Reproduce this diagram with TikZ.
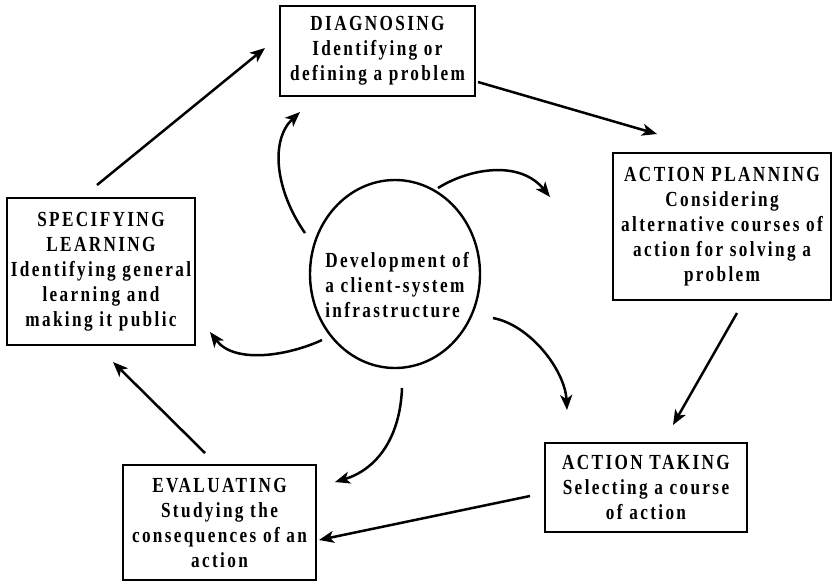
\documentclass[tikz,border=0pt]{standalone}
\usepackage{fontspec}
\setmainfont{Liberation Serif}[FakeStretch=0.8,LetterSpace=11]
\usetikzlibrary{arrows.meta,shapes.geometric}
\newcommand\diagtxt{\bfseries\fontsize{21.5}{25}\selectfont}
\begin{document}
\begin{tikzpicture}[x=1pt,y=-1pt,
  box/.style={draw,line width=2.6pt,inner sep=0pt,align=center,font=\diagtxt},
  arr/.style={line width=2.5pt,-{Stealth[length=15pt,width=12pt,inset=4pt]}},
  carr/.style={line width=2.5pt,-{Stealth[length=15pt,width=12pt,inset=4pt]}}]
\useasboundingbox[fill=white] (0,0) rectangle (833,582);
% boxes
\node[box,minimum width=195pt,minimum height=90pt] (diag) at (377.5,51)
  {DIAGNOSING\\Identifying or\\defining a problem};
\node[box,minimum width=218pt,minimum height=147pt] (plan) at (722,226.5)
  {ACTION PLANNING\\Considering\\alternative courses of\\action for solving a\\problem};
\node[box,minimum width=202pt,minimum height=89pt] (take) at (646,487.5)
  {ACTION TAKING\\Selecting a course\\of action};
\node[box,minimum width=193pt,minimum height=115pt] (eval) at (219.5,522.5)
  {EVALUATING\\Studying the\\consequences of an\\action};
\node[box,minimum width=188pt,minimum height=147pt] (spec) at (101,271.5)
  {SPECIFYING\\LEARNING\\Identifying general\\learning and\\making it public};
% central ellipse
\node[draw,ellipse,line width=2.4pt,minimum width=170pt,minimum height=188pt,inner sep=0pt] (circ) at (395,274) {};
\node[align=left,font=\diagtxt,inner sep=0pt] (circtxt) at (397,285)
  {Development of\\a client-system\\infrastructure};
% straight arrow end points
\coordinate (s1) at (97,185);   \coordinate (e1) at (265,48);
\coordinate (s2) at (478,82);   \coordinate (e2) at (657,134);
\coordinate (s3) at (737,313);  \coordinate (e3) at (673,425);
\coordinate (s4) at (530,496);  \coordinate (e4) at (319,540);
\coordinate (s5) at (205,453);  \coordinate (e5) at (113,362);
\draw[arr] (s1) -- (e1);
\draw[arr] (s2) -- (e2);
\draw[arr] (s3) -- (e3);
\draw[arr] (s4) -- (e4);
\draw[arr] (s5) -- (e5);
% curved arrows from the centre
\coordinate (ca) at (305,233); \coordinate (ta) at (300,112);
\coordinate (cb) at (438,188); \coordinate (tb) at (550,197);
\coordinate (cc) at (493,318); \coordinate (tc) at (567,410);
\coordinate (cd) at (402,388); \coordinate (td) at (335,482);
\coordinate (ce) at (322,340); \coordinate (te) at (210,332);
\draw[carr] (ca) .. controls (275,190) and (270,140) .. (ta);
\draw[carr] (cb) .. controls (470,168) and (520,160) .. (tb);
\draw[carr] (cc) .. controls (530,325) and (565,370) .. (tc);
\draw[carr] (cd) .. controls (400,440) and (375,470) .. (td);
\draw[carr] (ce) .. controls (290,355) and (235,365) .. (te);
\end{tikzpicture}
\end{document}
